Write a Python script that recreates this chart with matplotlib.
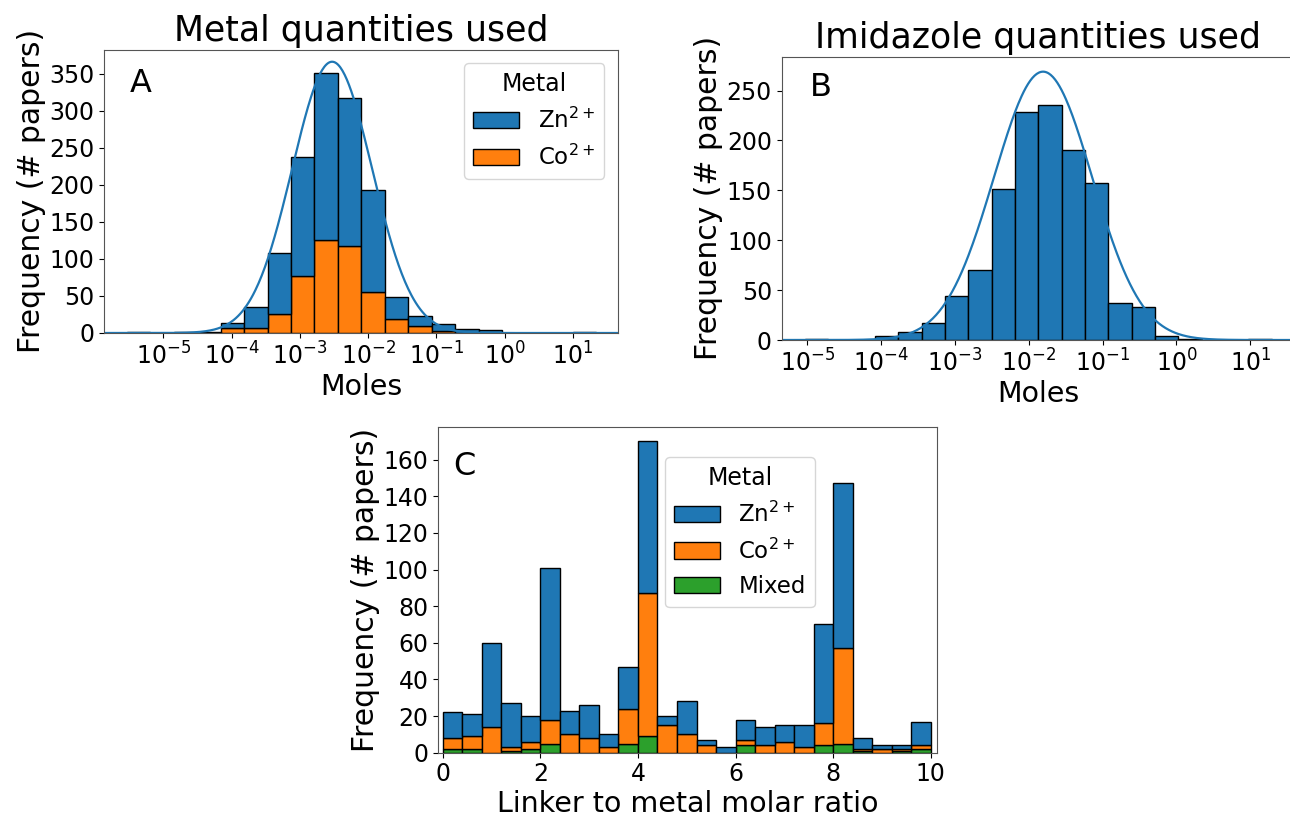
import numpy as np
import matplotlib
matplotlib.use('Agg')
import matplotlib.pyplot as plt
from matplotlib.patches import Patch
from matplotlib.ticker import NullLocator

# Panel A: metal quantities (20 log-spaced bins, log10 moles)
a_lo, a_hi = -5.536, 1.34
a_total = [1, 0, 1, 2, 14, 35, 108, 237, 351, 317, 193, 48, 23, 12, 5, 4, 0, 0, 0, 1]
a_co = [0, 0, 0, 0, 7, 7, 26, 77, 126, 118, 55, 19, 10, 3, 0, 0, 0, 0, 0, 0]
# fitted curve: centre (log10 mol), width (decades), peak
a_curve = (-2.527, 0.585, 366)

# Panel B: imidazole quantities
b_lo, b_hi = -5.03, 1.29
b_total = [1, 0, 0, 4, 8, 17, 44, 70, 151, 229, 236, 190, 157, 37, 33, 4, 1, 0, 0, 1]
b_curve = (-1.806, 0.665, 269)

# Panel C: linker to metal molar ratio, 25 bins over 0-10
c_lo, c_hi = 0, 10
c_zn = [14, 12, 46, 24, 14, 83, 13, 18, 7, 23, 83, 5, 18, 3, 3, 11, 10, 9, 12, 54, 90, 6, 2, 2, 13]
c_co = [6, 7, 14, 2, 4, 13, 10, 8, 3, 19, 78, 15, 10, 4, 0, 3, 4, 6, 3, 12, 52, 1, 2, 1, 2]
c_mixed = [2, 2, 0, 1, 2, 5, 0, 0, 0, 5, 9, 0, 0, 0, 0, 4, 0, 0, 0, 4, 5, 1, 0, 1, 2]

BLUE, ORANGE, GREEN = '#1f77b4', '#ff7f0e', '#2ca02c'

plt.rcParams['font.size'] = 17
plt.rcParams['legend.fontsize'] = 16.5
plt.rcParams['legend.title_fontsize'] = 17
plt.rcParams['axes.labelpad'] = 2.5


def gauss_curve(ax, lo, hi, params):
    mu, sig, peak = params
    xs = np.linspace(lo - 0.5, hi + 0.5, 500)
    ys = peak * np.exp(-0.5 * ((xs - mu) / sig) ** 2)
    ax.plot(10 ** xs, ys, color=BLUE, lw=1.6)


def log_bars(ax, lo, hi, heights, bottom, color):
    edges = np.linspace(lo, hi, len(heights) + 1)
    left = 10 ** edges[:-1]
    width = 10 ** edges[1:] - left
    ax.bar(left, heights, width=width, bottom=bottom, align='edge',
           color=color, edgecolor='black', linewidth=1.0)


def style_axes(ax, letter, lx, ly):
    for s in ax.spines.values():
        s.set_color('#555555')
    ax.text(lx, ly, letter, transform=ax.transAxes, fontsize=23, va='top')


def log_axis(ax, lo, hi):
    ax.set_xscale('log')
    ax.set_xlim(10 ** lo, 10 ** hi)
    ax.xaxis.set_minor_locator(NullLocator())
    ax.set_xticks([10.0 ** k for k in range(-5, 2)])


fig = plt.figure(figsize=(12.9, 8.18), dpi=100)
W, H = 1290, 818
axA = fig.add_axes([104 / W, 1 - 333 / H, 514 / W, 283.5 / H])
axB = fig.add_axes([781.7 / W, 1 - 340 / H, 513.3 / W, 283.3 / H])
axC = fig.add_axes([438.3 / W, 1 - 752.7 / H, 498.4 / W, 326 / H])

TITLE_FS, XLAB_FS, YLAB_FS = 25, 20.5, 21.5

# A
a_zn = np.array(a_total) - np.array(a_co)
log_bars(axA, a_lo, a_hi, a_co, 0, ORANGE)
log_bars(axA, a_lo, a_hi, a_zn, np.array(a_co), BLUE)
gauss_curve(axA, a_lo, a_hi, a_curve)
log_axis(axA, -5.868, 1.66)
axA.set_ylim(0, 382.5)
axA.set_yticks(range(0, 351, 50))
axA.set_title('Metal quantities used', fontsize=TITLE_FS)
axA.set_xlabel('Moles', fontsize=XLAB_FS)
axA.set_ylabel('Frequency (# papers)', fontsize=YLAB_FS)
style_axes(axA, 'A', 0.05, 0.935)
axA.legend(handles=[Patch(facecolor=BLUE, edgecolor='black', label='Zn$^{2+}$'),
                    Patch(facecolor=ORANGE, edgecolor='black', label='Co$^{2+}$')],
           title='Metal', loc='upper right', borderaxespad=0.6)

# B
log_bars(axB, b_lo, b_hi, b_total, 0, BLUE)
gauss_curve(axB, b_lo, b_hi, b_curve)
log_axis(axB, -5.346, 1.606)
axB.set_ylim(0, 284)
axB.set_yticks(range(0, 251, 50))
axB.set_title('Imidazole quantities used', fontsize=TITLE_FS)
axB.set_xlabel('Moles', fontsize=XLAB_FS)
axB.set_ylabel('Frequency (# papers)', fontsize=YLAB_FS)
style_axes(axB, 'B', 0.055, 0.945)

# C
c_edges = np.linspace(c_lo, c_hi, len(c_zn) + 1)
c_w = c_edges[1] - c_edges[0]
mixed = np.array(c_mixed)
co = np.array(c_co)
bar_kw = dict(width=c_w, align='edge', edgecolor='black', linewidth=1.0)
axC.bar(c_edges[:-1], mixed, color=GREEN, **bar_kw)
axC.bar(c_edges[:-1], co, bottom=mixed, color=ORANGE, **bar_kw)
axC.bar(c_edges[:-1], c_zn, bottom=mixed + co, color=BLUE, **bar_kw)
axC.set_xlim(-0.09, 10.12)
axC.set_ylim(0, 178)
axC.set_xticks(range(0, 11, 2))
axC.set_yticks(range(0, 161, 20))
axC.set_xlabel('Linker to metal molar ratio', fontsize=XLAB_FS)
axC.set_ylabel('Frequency (# papers)', fontsize=YLAB_FS)
style_axes(axC, 'C', 0.03, 0.925)
axC.legend(handles=[Patch(facecolor=BLUE, edgecolor='black', label='Zn$^{2+}$'),
                    Patch(facecolor=ORANGE, edgecolor='black', label='Co$^{2+}$'),
                    Patch(facecolor=GREEN, edgecolor='black', label='Mixed')],
           title='Metal', loc='upper left', bbox_to_anchor=(0.455, 0.907),
           borderaxespad=0)

fig.savefig('out.png', dpi=100)
